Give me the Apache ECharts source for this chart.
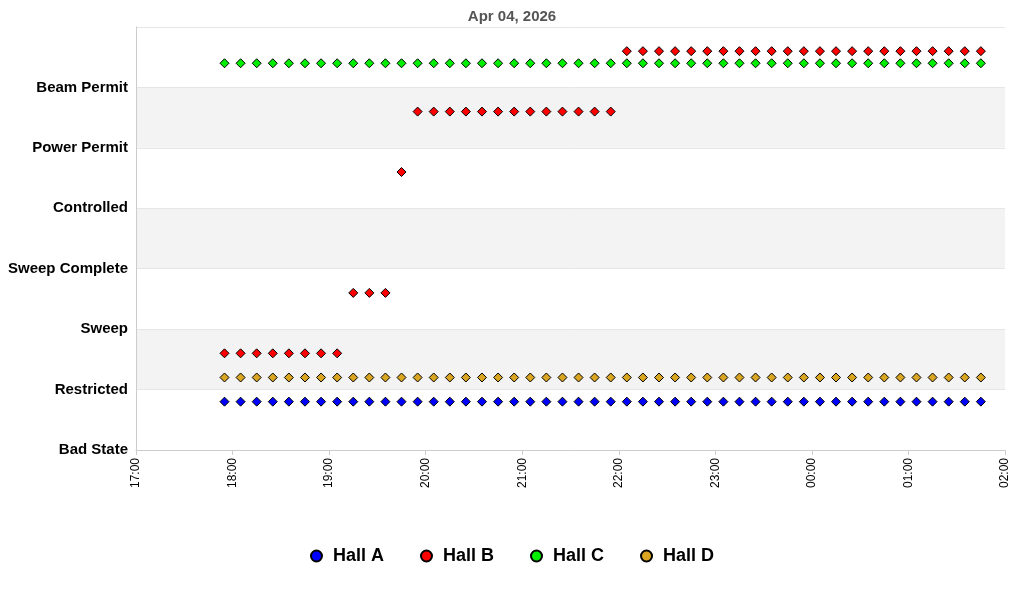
<!DOCTYPE html>
<html>
<head>
<meta charset="utf-8">
<script src="https://cdn.jsdelivr.net/npm/echarts@6/dist/echarts.min.js"></script>
<style>html,body{margin:0;padding:0;background:#fff}#chart{width:1024px;height:600px}</style>
</head>
<body>
<div id="chart"></div>
<script>
let chart = echarts.init(document.getElementById('chart'));

// states, bottom to top
const stateNames = ['Bad State', 'Restricted', 'Sweep', 'Sweep Complete', 'Controlled', 'Power Permit', 'Beam Permit'];

// sample times, 10 minute steps (after midnight = next day)
const times = [
    '17:55', '18:05', '18:15', '18:25', '18:35', '18:45', '18:55', '19:05', '19:15', '19:25',
    '19:35', '19:45', '19:55', '20:05', '20:15', '20:25', '20:35', '20:45', '20:55', '21:05',
    '21:15', '21:25', '21:35', '21:45', '21:55', '22:05', '22:15', '22:25', '22:35', '22:45',
    '22:55', '23:05', '23:15', '23:25', '23:35', '23:45', '23:55', '00:05', '00:15', '00:25',
    '00:35', '00:45', '00:55', '01:05', '01:15', '01:25', '01:35', '01:45'
];

// state index per hall at each time
const hallA = [1,1,1,1,1,1,1,1,1,1, 1,1,1,1,1,1,1,1,1,1, 1,1,1,1,1,1,1,1,1,1, 1,1,1,1,1,1,1,1,1,1, 1,1,1,1,1,1,1,1];
const hallB = [1,1,1,1,1,1,1,1,2,2, 2,4,5,5,5,5,5,5,5,5, 5,5,5,5,5,6,6,6,6,6, 6,6,6,6,6,6,6,6,6,6, 6,6,6,6,6,6,6,6];
const hallC = [6,6,6,6,6,6,6,6,6,6, 6,6,6,6,6,6,6,6,6,6, 6,6,6,6,6,6,6,6,6,6, 6,6,6,6,6,6,6,6,6,6, 6,6,6,6,6,6,6,6];
const hallD = [1,1,1,1,1,1,1,1,1,1, 1,1,1,1,1,1,1,1,1,1, 1,1,1,1,1,1,1,1,1,1, 1,1,1,1,1,1,1,1,1,1, 1,1,1,1,1,1,1,1];

// vertical offset of each hall inside a state band
const halls = [
    {name: 'Hall A', data: hallA, offset: -0.2, color: '#0000ff'},
    {name: 'Hall B', data: hallB, offset: 0.6, color: '#ff0000'},
    {name: 'Hall C', data: hallC, offset: 0.4, color: '#00ee00'},
    {name: 'Hall D', data: hallD, offset: 0.2, color: '#daa520'}
];

function toDate(t) {
    let [h, m] = t.split(':').map(Number);
    return h < 12 ? new Date(2026, 3, 5, h, m) : new Date(2026, 3, 4, h, m);
}

let option = {
    animation: false,
    title: {
        text: 'Apr 04, 2026',
        left: 'center',
        top: 4,
        textStyle: {fontFamily: 'Liberation Sans', fontSize: 15, fontWeight: 'bold', color: '#555'}
    },
    grid: {left: 136, right: 19, top: 27, bottom: 150},
    legend: {
        bottom: 30,
        left: 'center',
        icon: 'circle',
        itemWidth: 11,
        itemHeight: 11,
        itemGap: 36,
        textStyle: {fontFamily: 'Liberation Sans', fontSize: 18, fontWeight: 'bold', color: '#000', padding: [0, 0, 0, 6]},
        data: halls.map(h => h.name)
    },
    xAxis: {
        type: 'time',
        min: new Date(2026, 3, 4, 17, 0).getTime(),
        max: new Date(2026, 3, 5, 2, 0).getTime(),
        interval: 3600 * 1000,
        splitLine: {show: false},
        axisLine: {lineStyle: {color: '#ccc'}},
        axisTick: {show: true, lineStyle: {color: '#ccc'}},
        axisLabel: {
            rotate: 90,
            color: '#000',
            fontFamily: 'Liberation Sans',
            fontSize: 12,
            formatter: function (v) {
                let d = new Date(v);
                return String(d.getHours()).padStart(2, '0') + ':' + String(d.getMinutes()).padStart(2, '0');
            }
        }
    },
    yAxis: {
        type: 'value',
        min: 0,
        max: 7,
        interval: 1,
        axisLine: {show: true, lineStyle: {color: '#ccc'}},
        axisTick: {show: false},
        splitLine: {show: true, lineStyle: {color: '#e6e6e6'}},
        splitArea: {show: true, areaStyle: {color: ['#ffffff', '#f3f3f3']}},
        axisLabel: {
            color: '#000',
            fontFamily: 'Liberation Sans',
            fontSize: 15,
            fontWeight: 'bold',
            margin: 8,
            padding: [3, 0, 0, 0],
            formatter: v => stateNames[v] || ''
        }
    },
    series: halls.map(h => ({
        name: h.name,
        type: 'scatter',
        symbol: 'diamond',
        symbolSize: 9,
        itemStyle: {color: h.color, borderColor: '#000', borderWidth: 1, opacity: 1},
        data: times.map((t, i) => [toDate(t).getTime(), h.data[i] + h.offset])
    }))
};

chart.setOption(option);
</script>
</body>
</html>
